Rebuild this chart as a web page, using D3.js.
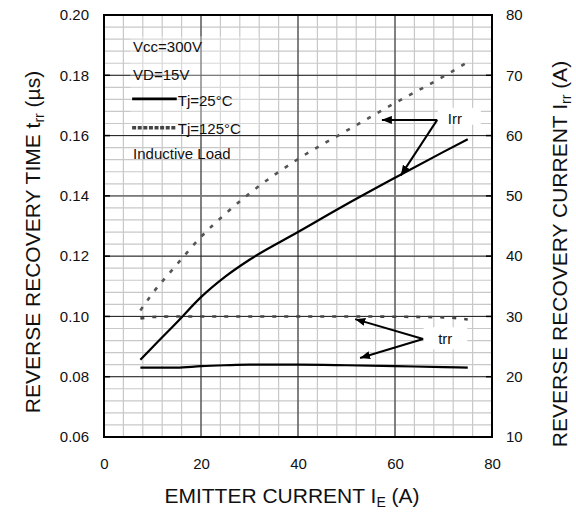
<!DOCTYPE html>
<html>
<head>
<meta charset="utf-8">
<script src="https://cdn.jsdelivr.net/npm/d3@7"></script>
<style>
  body { margin: 0; background: #fff; }
  text { font-family: "Liberation Sans", Arial, sans-serif; fill: #111; }
</style>
</head>
<body>
<div class="container"></div>
<script>
// emitter current (A), sample points along the curves
let ie = [7.5, 10, 15, 20, 25, 30, 40, 50, 60, 70, 75];
// reverse recovery current Irr (A), right axis
let irr25  = [22.8, 24.9, 29.0, 33.2, 36.6, 39.4, 44.0, 48.6, 53.0, 57.3, 59.4];
let irr125 = [31.0, 33.8, 38.6, 43.2, 47.0, 50.4, 56.1, 60.8, 65.4, 69.8, 72.2];
// reverse recovery time trr (us), left axis
let trr25  = [0.083, 0.083, 0.083, 0.0835, 0.0838, 0.084, 0.084, 0.0838, 0.0835, 0.0832, 0.083];
let trr125 = [0.0993, 0.0998, 0.100, 0.100, 0.100, 0.100, 0.100, 0.100, 0.0999, 0.0997, 0.099];

let xTicks = [0, 20, 40, 60, 80];
let trrTicks = [0.06, 0.08, 0.10, 0.12, 0.14, 0.16, 0.18, 0.20];
let irrTicks = [10, 20, 30, 40, 50, 60, 70, 80];

let legendText = ["Vcc=300V", "VD=15V", "Tj=25°C", "Tj=125°C", "Inductive Load"];

// annotation arrows in data units: [from x, from y, to x, to y]
let irrArrows = [[68.7, 62.6, 57.3, 62.6], [68.7, 62.6, 61.2, 53.4]];
let trrArrows = [[65.8, 0.0925, 51.8, 0.0991], [65.8, 0.0925, 52.8, 0.0862]];

let margin = {top: 15, right: 84, bottom: 78, left: 104},
  width = 576 - margin.left - margin.right,
  height = 515 - margin.top - margin.bottom;

let root = d3.select(".container").append("svg")
    .attr("width", 576)
    .attr("height", 515);

let defs = root.append("defs");
defs.append("marker")
    .attr("id", "head")
    .attr("viewBox", "0 0 10 8")
    .attr("refX", 10).attr("refY", 4)
    .attr("markerWidth", 10).attr("markerHeight", 8)
    .attr("markerUnits", "userSpaceOnUse")
    .attr("orient", "auto")
  .append("path")
    .attr("d", "M0,0 L10,4 L0,8 Z")
    .style("fill", "#000");

let svg = root.append("g")
    .attr("transform", "translate(" + margin.left + "," + margin.top + ")");

let x = d3.scaleLinear().domain([0, 80]).range([0, width]);
let yL = d3.scaleLinear().domain([0.06, 0.20]).range([height, 0]);
let yR = d3.scaleLinear().domain([10, 80]).range([height, 0]);

// minor grid
let grid = svg.append("g");
grid.selectAll(".vminor")
  .data(d3.range(4, 80, 4))
  .enter().append("line")
    .attr("x1", d => x(d)).attr("x2", d => x(d))
    .attr("y1", 0).attr("y2", height)
    .style("stroke", "#c8c8c8").style("stroke-width", 1.2);
grid.selectAll(".hminor")
  .data(d3.range(0.064, 0.2, 0.004))
  .enter().append("line")
    .attr("x1", 0).attr("x2", width)
    .attr("y1", d => yL(d)).attr("y2", d => yL(d))
    .style("stroke", "#c8c8c8").style("stroke-width", 1.2);

// major grid
grid.selectAll(".vmajor")
  .data(xTicks.slice(1, -1))
  .enter().append("line")
    .attr("x1", d => x(d)).attr("x2", d => x(d))
    .attr("y1", 0).attr("y2", height)
    .style("stroke", "#222").style("stroke-width", 1);
grid.selectAll(".hmajor")
  .data(trrTicks.slice(1, -1))
  .enter().append("line")
    .attr("x1", 0).attr("x2", width)
    .attr("y1", d => yL(d)).attr("y2", d => yL(d))
    .style("stroke", d => Math.abs(d - 0.14) < 1e-6 ? "#7a7a7a" : "#222")
    .style("stroke-width", d => Math.abs(d - 0.14) < 1e-6 ? 1.6 : 1);

// legend block lightens the grid behind it a little
svg.append("rect")
    .attr("x", x(5.4)).attr("y", yL(0.193))
    .attr("width", x(32) - x(5.4)).attr("height", yL(0.1635) - yL(0.193))
    .style("fill", "#fff").style("opacity", 0.3);

// axes (labels only, the frame is drawn separately)
let axL = svg.append("g")
    .call(d3.axisLeft(yL).tickValues(trrTicks).tickFormat(d3.format(".2f")).tickSize(0).tickPadding(15));
let axR = svg.append("g")
    .attr("transform", "translate(" + width + ",0)")
    .call(d3.axisRight(yR).tickValues(irrTicks).tickFormat(d3.format("d")).tickSize(0).tickPadding(14));
let axB = svg.append("g")
    .attr("transform", "translate(0," + height + ")")
    .call(d3.axisBottom(x).tickValues(xTicks).tickFormat(d3.format("d")).tickSize(0).tickPadding(21));
[axL, axR, axB].forEach(a => {
  a.select(".domain").remove();
  a.selectAll("text").style("font-size", "15px").style("fill", "#111")
    .style("font-family", "'Liberation Sans', Arial, sans-serif");
});

// inward ticks on the side axes
svg.selectAll(".tl")
  .data(trrTicks)
  .enter().append("line")
    .attr("x1", 0).attr("x2", 6)
    .attr("y1", d => yL(d)).attr("y2", d => yL(d))
    .style("stroke", "#000").style("stroke-width", 1.5);
svg.selectAll(".tr")
  .data(irrTicks)
  .enter().append("line")
    .attr("x1", width - 6).attr("x2", width)
    .attr("y1", d => yR(d)).attr("y2", d => yR(d))
    .style("stroke", "#000").style("stroke-width", 1.5);

// frame
svg.append("rect")
    .attr("width", width).attr("height", height)
    .style("fill", "none").style("stroke", "#000").style("stroke-width", 2);

// curves
let lineR = d3.line().x((d, i) => x(ie[i])).y(d => yR(d)).curve(d3.curveMonotoneX);
let lineL = d3.line().x((d, i) => x(ie[i])).y(d => yL(d)).curve(d3.curveMonotoneX);

svg.append("path").datum(irr25).attr("d", lineR)
    .style("fill", "none").style("stroke", "#000").style("stroke-width", 2.2);
svg.append("path").datum(trr25).attr("d", lineL)
    .style("fill", "none").style("stroke", "#000").style("stroke-width", 2.2);
svg.append("path").datum(irr125).attr("d", lineR)
    .style("fill", "none").style("stroke", "#555").style("stroke-width", 2.6)
    .style("stroke-dasharray", "4,8");
svg.append("path").datum(trr125).attr("d", lineL)
    .style("fill", "none").style("stroke", "#444").style("stroke-width", 2.6)
    .style("stroke-dasharray", "4,8");

// annotations
let note = (label, lx, ly, box, arrows, yS) => {
  svg.append("rect")
      .attr("x", x(box[0])).attr("y", yS(box[1]))
      .attr("width", x(box[2]) - x(box[0])).attr("height", yS(box[3]) - yS(box[1]))
      .style("fill", "#fff");
  svg.selectAll(null)
    .data(arrows)
    .enter().append("line")
      .attr("x1", d => x(d[0])).attr("y1", d => yS(d[1]))
      .attr("x2", d => x(d[2])).attr("y2", d => yS(d[3]))
      .attr("marker-end", "url(#head)")
      .style("stroke", "#000").style("stroke-width", 2);
  svg.append("text")
      .text(label)
      .attr("x", x(lx)).attr("y", yS(ly))
      .style("font-size", "15px");
};
note("Irr", 70.9, 62.0, [68.8, 64.6, 77.7, 61.8], irrArrows, yR);
note("trr", 68.9, 0.0908, [65.9, 0.0964, 74.9, 0.0891], trrArrows, yL);

// legend
let leg = svg.append("g").style("font-size", "15px");
let legY = [0.1876, 0.1786, 0.1699, 0.1605, 0.1522];
leg.selectAll("text")
  .data(legendText)
  .enter().append("text")
    .text(d => d)
    .attr("x", (d, i) => (i == 2 || i == 3) ? x(15.2) : x(6.0))
    .attr("y", (d, i) => yL(legY[i]))
    .style("font-size", "15px");
leg.append("line")
    .attr("x1", x(5.8)).attr("x2", x(15))
    .attr("y1", yL(0.1722)).attr("y2", yL(0.1722))
    .style("stroke", "#000").style("stroke-width", 2.8);
leg.append("line")
    .attr("x1", x(5.8)).attr("x2", x(15))
    .attr("y1", yL(0.1626)).attr("y2", yL(0.1626))
    .style("stroke", "#444").style("stroke-width", 3.5)
    .style("stroke-dasharray", "4,1.6");

// axis titles
root.append("text")
    .attr("x", 292).attr("y", 503)
    .attr("text-anchor", "middle")
    .style("font-size", "21px")
    .html("EMITTER CURRENT I<tspan dy='4' font-size='14px'>E</tspan><tspan dy='-4'> (A)</tspan>");
root.append("text")
    .attr("transform", "translate(40,242) rotate(-90)")
    .attr("text-anchor", "middle")
    .style("font-size", "21px")
    .html("REVERSE RECOVERY TIME t<tspan dy='4' font-size='14px'>rr</tspan><tspan dy='-4'> (µs)</tspan>");
root.append("text")
    .attr("transform", "translate(567,254) rotate(-90)")
    .attr("text-anchor", "middle")
    .style("font-size", "21px")
    .html("REVERSE RECOVERY CURRENT I<tspan dy='4' font-size='14px'>rr</tspan><tspan dy='-4'> (A)</tspan>");
</script>
</body>
</html>
